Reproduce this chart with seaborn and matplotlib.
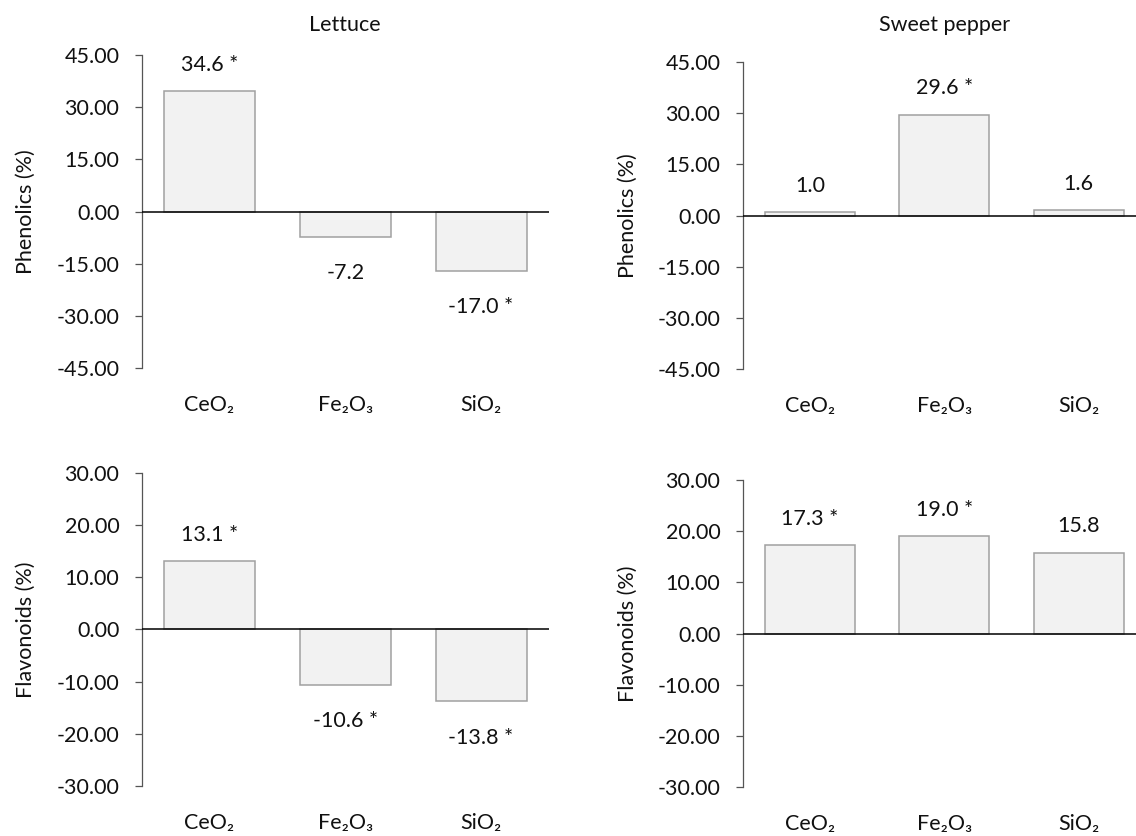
import matplotlib
matplotlib.use("Agg")
import matplotlib.pyplot as plt
import seaborn as sns

# Nanoparticle treatments
categories = ["CeO\u2082", "Fe\u2082O\u2083", "SiO\u2082"]

# Change relative to control (%)
lettuce_phenolics = [34.6, -7.2, -17.0]
lettuce_phenolics_sig = [True, False, True]
pepper_phenolics = [1.0, 29.6, 1.6]
pepper_phenolics_sig = [False, True, False]
lettuce_flavonoids = [13.1, -10.6, -13.8]
lettuce_flavonoids_sig = [True, True, True]
pepper_flavonoids = [17.3, 19.0, 15.8]
pepper_flavonoids_sig = [True, True, False]

phenolic_ticks = [-45, -30, -15, 0, 15, 30, 45]
flavonoid_ticks = [-30, -20, -10, 0, 10, 20, 30]

crops = ["Lettuce", "Sweet pepper"]

sns.set_theme(style="white")
plt.rcParams["font.family"] = ["Lato", "DejaVu Sans"]
plt.rcParams["axes.unicode_minus"] = False
plt.rcParams["font.size"] = 15.5

W, H = 1136, 836
fig = plt.figure(figsize=(W / 100, H / 100), dpi=100)


def box(x0, y0, x1, y1):
    return [x0 / W, 1 - y1 / H, (x1 - x0) / W, (y1 - y0) / H]


panels = [
    (box(141.5, 55, 549, 368), lettuce_phenolics, lettuce_phenolics_sig,
     phenolic_ticks, "Phenolics (%)", crops[0], 17),
    (box(742.7, 62, 1146, 369), pepper_phenolics, pepper_phenolics_sig,
     phenolic_ticks, "Phenolics (%)", crops[1], 22),
    (box(141.5, 472.7, 549, 786), lettuce_flavonoids, lettuce_flavonoids_sig,
     flavonoid_ticks, "Flavonoids (%)", None, 0),
    (box(742.7, 480, 1146, 787), pepper_flavonoids, pepper_flavonoids_sig,
     flavonoid_ticks, "Flavonoids (%)", None, 0),
]

text_color = "#111111"
spine_color = "#555555"

for rect, values, sig, ticks, ylabel, title, title_pad in panels:
    ax = fig.add_axes(rect)
    sns.barplot(x=categories, y=values, ax=ax, color="#f2f2f2",
                saturation=1, width=0.67, edgecolor="#a0a0a0", linewidth=1.1)
    ax.set_xlim(-0.5, 2.5)
    ax.set_ylim(ticks[0], ticks[-1])
    ax.set_yticks(ticks)
    ax.set_yticklabels([f"{t:.2f}" for t in ticks])
    ax.axhline(0, color="black", lw=1.1, zorder=3)

    for s in ("top", "right", "bottom"):
        ax.spines[s].set_visible(False)
    ax.spines["left"].set_color(spine_color)
    ax.spines["left"].set_linewidth(0.9)

    ax.tick_params(axis="y", direction="out", length=5, width=0.9,
                   color=spine_color, pad=11, labelcolor=text_color,
                   labelsize=15.5, left=True)
    ax.tick_params(axis="x", length=0, pad=19.5, labelcolor=text_color,
                   labelsize=15.5)

    ax.set_ylabel(ylabel, fontsize=15.5, color=text_color, va="center")
    ax.yaxis.set_label_coords(-0.284, 0.5)
    ax.set_xlabel("")

    for i, (v, s) in enumerate(zip(values, sig)):
        label = f"{v:.1f}" + (" *" if s else "")
        off = 19 if v >= 0 else -26
        ax.annotate(label, (i, v), xytext=(0, off), textcoords="offset points",
                    ha="center", va="center", fontsize=15.5, color=text_color)

    if title:
        ax.set_title(title, fontsize=15.5, color=text_color, pad=title_pad)

fig.savefig("out.png", dpi=100)
